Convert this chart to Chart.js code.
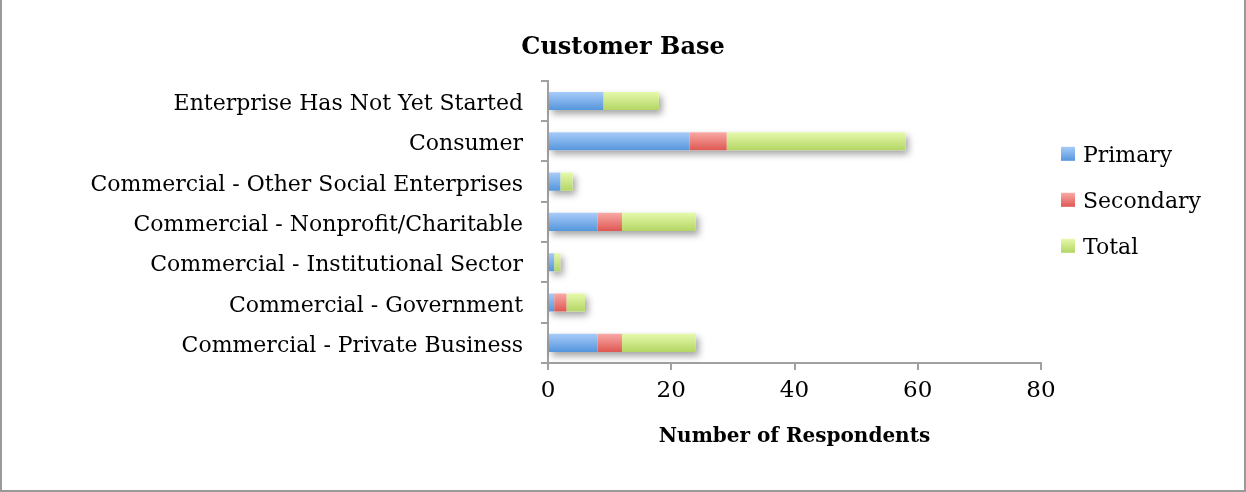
<!DOCTYPE html>
<html>
<head>
<meta charset="utf-8">
<script src="https://cdn.jsdelivr.net/npm/chart.js@4.4.1/dist/chart.umd.min.js"></script>
<style>
  html, body { margin: 0; padding: 0; background: #fff; }
  #wrap { width: 1246px; height: 492px; position: relative; }
</style>
</head>
<body>
<div id="wrap"><canvas id="chart" width="1246" height="492"></canvas></div>
<script>
// Customer segments, listed top to bottom
const categories = [
  'Enterprise Has Not Yet Started',
  'Consumer',
  'Commercial - Other Social Enterprises',
  'Commercial - Nonprofit/Charitable',
  'Commercial - Institutional Sector',
  'Commercial - Government',
  'Commercial - Private Business'
];
const primary   = [9, 23, 2, 8, 1, 1, 8];
const secondary = [0, 6, 0, 4, 0, 2, 4];
const total     = [9, 29, 2, 12, 1, 3, 12];
const xTickMin = 0, xTickMax = 80, xTickStep = 20;

const SERIF = '"DejaVu Serif", "Liberation Serif", serif';
const AXIS_GREY = '#a0a0a0';

// top / bottom colours of each series' vertical gradient
const palette = {
  Primary:   ['#a8cbf9', '#5596dc'],
  Secondary: ['#f9a9a6', '#de5852'],
  Total:     ['#e6f9ab', '#b3d665']
};

function gradientFill(name) {
  return (ctx) => {
    const chart = ctx.chart;
    const y = chart.scales && chart.scales.y;
    if (!y || ctx.dataIndex === undefined) return palette[name][1];
    const c = y.getPixelForValue(ctx.dataIndex);
    if (!isFinite(c)) return palette[name][1];
    const g = chart.ctx.createLinearGradient(0, c - 9, 0, c + 9);
    g.addColorStop(0, palette[name][0]);
    g.addColorStop(1, palette[name][1]);
    return g;
  };
}

// white page with a grey frame
const framePlugin = {
  id: 'frame',
  beforeDraw(chart) {
    const { ctx, width, height } = chart;
    ctx.save();
    ctx.fillStyle = '#fff';
    ctx.fillRect(0, 0, width, height);
    ctx.strokeStyle = '#9a9a9a';
    ctx.lineWidth = 2;
    ctx.beginPath();
    ctx.moveTo(1, 0); ctx.lineTo(1, height - 1);
    ctx.lineTo(width - 1, height - 1); ctx.lineTo(width - 1, 0);
    ctx.stroke();
    ctx.restore();
  }
};

// soft drop shadow under each whole stacked bar
const shadowPlugin = {
  id: 'barShadow',
  beforeDatasetsDraw(chart) {
    const { ctx } = chart;
    const metas = chart.data.datasets.map((d, i) => chart.getDatasetMeta(i));
    ctx.save();
    ctx.shadowColor = 'rgba(0,0,0,0.36)';
    ctx.shadowBlur = 7;
    ctx.shadowOffsetX = 3;
    ctx.shadowOffsetY = 4;
    ctx.fillStyle = '#ffffff';
    categories.forEach((_, i) => {
      let left = Infinity, right = -Infinity, top = 0, h = 0;
      metas.forEach(m => {
        const el = m.data[i];
        if (!el) return;
        const p = el.getProps(['x', 'y', 'base', 'height'], true);
        left = Math.min(left, p.base, p.x);
        right = Math.max(right, p.base, p.x);
        top = p.y - p.height / 2; h = p.height;
      });
      if (isFinite(left) && right > left) ctx.fillRect(left, top, right - left, h);
    });
    ctx.restore();
  }
};

// legend column on the right, reserved as its own layout box
const legendPlugin = {
  id: 'sideLegend',
  install(chart) {
    const box = {
      position: 'right',
      weight: 0,
      fullSize: false,
      options: {},
      left: 0, top: 0, right: 0, bottom: 0, width: 0, height: 0,
      isHorizontal() { return false; },
      update(maxWidth, maxHeight) {
        this.width = 205;
        this.height = maxHeight;
      },
      draw() {
        const { ctx, chartArea } = chart;
        const x0 = this.left + 20;
        ctx.save();
        ctx.font = '22px ' + SERIF;
        ctx.textAlign = 'left';
        ctx.textBaseline = 'alphabetic';
        chart.data.datasets.forEach((ds, i) => {
          const base = chartArea.top + 81 + i * 46;
          const g = ctx.createLinearGradient(0, base - 15, 0, base - 1);
          g.addColorStop(0, palette[ds.label][0]);
          g.addColorStop(1, palette[ds.label][1]);
          ctx.fillStyle = g;
          ctx.fillRect(x0, base - 15, 14, 14);
          ctx.fillStyle = '#000';
          ctx.fillText(ds.label, x0 + 22, base);
        });
        ctx.restore();
      }
    };
    Chart.layouts.addBox(chart, box);
  }
};

new Chart(document.getElementById('chart'), {
  type: 'bar',
  data: {
    labels: categories,
    datasets: [
      { label: 'Primary',   data: primary,   backgroundColor: gradientFill('Primary') },
      { label: 'Secondary', data: secondary, backgroundColor: gradientFill('Secondary') },
      { label: 'Total',     data: total,     backgroundColor: gradientFill('Total') }
    ]
  },
  options: {
    indexAxis: 'y',
    responsive: false,
    animation: false,
    devicePixelRatio: 1,
    layout: { padding: 0 },
    datasets: { bar: { categoryPercentage: 1, barPercentage: 0.45, borderWidth: 0 } },
    plugins: {
      legend: { display: false },
      tooltip: { enabled: false },
      title: {
        display: true,
        text: 'Customer Base',
        color: '#000',
        font: { family: SERIF, size: 24, weight: 'bold' },
        padding: { top: 33, bottom: 19 }
      }
    },
    scales: {
      x: {
        stacked: true,
        min: xTickMin, max: xTickMax,
        ticks: { stepSize: xTickStep, color: '#000', padding: 7, font: { family: SERIF, size: 23 } },
        grid: { drawOnChartArea: false, drawTicks: true, tickLength: 7, color: AXIS_GREY, lineWidth: 2 },
        border: { display: true, color: AXIS_GREY, width: 2 },
        title: {
          display: true,
          text: 'Number of Respondents',
          color: '#000',
          font: { family: SERIF, size: 20, weight: 'bold' },
          padding: { top: 0, bottom: 43 }
        },
        afterFit(scale) { scale.height = 129; }
      },
      y: {
        stacked: true,
        ticks: {
          color: '#000',
          padding: 18,
          font: { family: SERIF, size: 22, lineHeight: '7px' },
          // leading blank line nudges each label a few pixels below the bar centre
          callback(value) { return ['', this.getLabelForValue(value)]; }
        },
        grid: { offset: true, drawOnChartArea: false, drawTicks: true, tickLength: 7, color: AXIS_GREY, lineWidth: 2 },
        border: { display: true, color: AXIS_GREY, width: 2 },
        afterFit(scale) { scale.width = 548; }
      }
    }
  },
  plugins: [framePlugin, shadowPlugin, legendPlugin]
});
</script>
</body>
</html>
